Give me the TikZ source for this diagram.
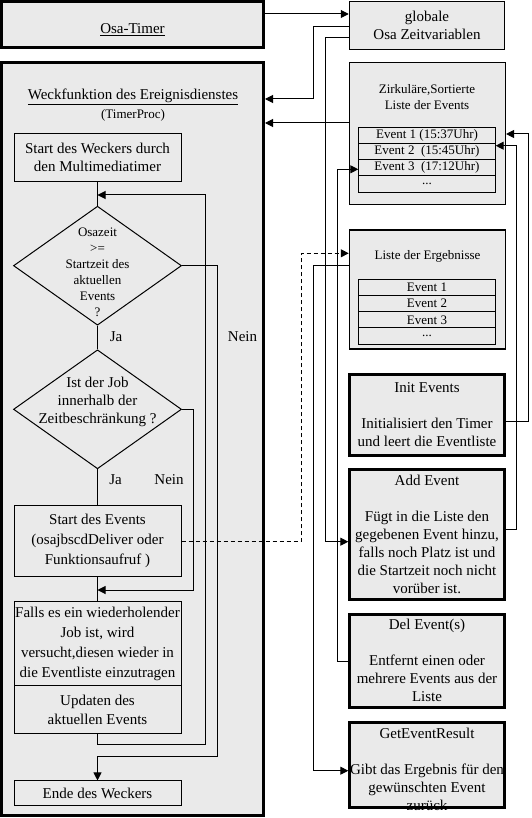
\documentclass[tikz,border=0pt]{standalone}
\usepackage{fontspec}
\setmainfont{Liberation Serif}
\usetikzlibrary{arrows.meta,shapes.geometric}
\definecolor{boxgray}{RGB}{234,234,234}
\newcommand\mainsz{\fontsize{15}{18}\selectfont}
\newcommand\smallsz{\fontsize{13}{16}\selectfont}
\newcommand\wideszA{\fontsize{15}{20}\selectfont}
\newcommand\wideszB{\fontsize{15}{19}\selectfont}
\begin{document}
\begin{tikzpicture}[x=1pt,y=-1pt,
  thickbox/.style={draw, line width=3pt, fill=boxgray, rectangle, inner sep=0pt, align=center, font=\mainsz},
  midbox/.style={draw, line width=1.5pt, fill=boxgray, rectangle, inner sep=0pt, align=center, font=\mainsz},
  flowbox/.style={draw, line width=1pt, fill=boxgray, rectangle, inner sep=0pt, align=center, font=\mainsz, minimum width=167pt},
  rowbox/.style={draw, line width=1pt, fill=boxgray, rectangle, inner sep=0pt, font=\smallsz, minimum width=136.4pt, minimum height=16.2pt},
  decide/.style={draw, line width=1pt, diamond, inner sep=0pt, minimum width=168pt, minimum height=119pt},
  txt/.style={inner sep=0pt, align=center, font=\mainsz},
  stxt/.style={inner sep=0pt, align=center, font=\smallsz},
  conn/.style={line width=1pt},
  arr/.style={line width=1pt, -{Triangle[length=8pt,width=8pt]}},
  dashline/.style={dash pattern=on 4pt off 3pt},
]
\useasboundingbox (0,0) rectangle (531,818);
\fill[white] (0,0) rectangle (531,818);

% ---------- left column ----------
\node[thickbox, minimum width=262pt, minimum height=46pt] (osa) at (132.5,25) {};
\node[txt] (osatxt) at (132.5,30) {\underline{Osa-Timer}};

\node[thickbox, minimum width=262pt, minimum height=753pt] (wf) at (132.5,439) {};
\node[txt] (wftitle) at (133,97) {\underline{Weckfunktion des Ereignisdienstes}};
\node[stxt] (wfsub) at (133,115) {(TimerProc)};

\node[flowbox, minimum height=47.4pt] (sw) at (97.5,157.5) {Start des Weckers durch\\den Multimediatimer};
\node[decide] (d1) at (97.5,265.7) {};
\node[stxt] (d1txt) at (97.5,272.5) {Osazeit\\>=\\Startzeit des\\aktuellen\\Events\\?};
\node[decide] (d2) at (97.5,409.3) {};
\node[txt] (d2txt) at (97.5,402.3) {Ist der Job\\innerhalb der\\Zeitbeschränkung ?};
\node[flowbox, minimum height=71.3pt] (se) at (97.5,541.2) {Start des Events\\[2pt](osajbscdDeliver oder\\[2pt]Funktionsaufruf )};
\node[flowbox, minimum height=84pt, font=\wideszA] (falls) at (97.5,643.7) {Falls es ein wiederholender\\Job ist, wird\\versucht,diesen wieder in\\die Eventliste einzutragen};
\node[flowbox, minimum height=47.6pt, font=\wideszB] (upd) at (97.5,709.5) {Updaten des\\aktuellen Events};
\node[flowbox, minimum height=24.7pt] (ende) at (97.5,793.3) {Ende des Weckers};

\node[txt] (ja1) at (116,336.7) {Ja};
\node[txt] (nein1) at (242.5,336.7) {Nein};
\node[txt] (ja2) at (115.5,480) {Ja};
\node[txt] (nein2) at (169,480) {Nein};

% ---------- right column ----------
\node[midbox, minimum width=155pt, minimum height=48pt] (glob) at (427,25.5) {globale\\Osa Zeitvariablen};

\node[midbox, minimum width=156pt, minimum height=142pt] (zirk) at (427.3,133.5) {};
\node[stxt] (zirktitle) at (427,97.5) {Zirkuläre,Sortierte\\Liste der Events};
\node[rowbox] (z1) at (427,135.4) {Event 1 (15:37Uhr)};
\node[rowbox] (z2) at (427,151.6) {Event 2\ \ (15:45Uhr)};
\node[rowbox] (z3) at (427,167.8) {Event 3\ \ (17:12Uhr)};
\node[rowbox] (z4) at (427,184.0) {...};

\node[midbox, minimum width=156pt, minimum height=119pt] (erg) at (427.5,289.3) {};
\node[stxt] (ergtitle) at (427.5,256.7) {Liste der Ergebnisse};
\node[rowbox] (e1) at (427,287.4) {Event 1};
\node[rowbox] (e2) at (427,303.6) {Event 2};
\node[rowbox] (e3) at (427,319.8) {Event 3};
\node[rowbox] (e4) at (427,336.0) {...};

\node[thickbox, minimum width=154.4pt, minimum height=81.6pt] (init) at (427,415) {Init Events\\[18pt]Initialisiert den Timer\\und leert die Eventliste};
\node[thickbox, minimum width=154.4pt, minimum height=129.4pt] (add) at (427,534.5) {Add Event\\[18pt]Fügt in die Liste den\\gegebenen Event hinzu,\\falls noch Platz ist und\\die Startzeit noch nicht\\vorüber ist.};
\node[thickbox, minimum width=154.4pt, minimum height=93.3pt] (del) at (427,660.85) {Del Event(s)\\[18pt]Entfernt einen oder\\mehrere Events aus der\\Liste};
\node[thickbox, minimum width=154.4pt, minimum height=85.3pt] (get) at (427,764.85) {};
\node[txt] (gettxt) at (427,769) {GetEventResult\\[18pt]Gibt das Ergebnis für den\\gewünschten Event\\zurück};

% ---------- connectors, left ----------
\coordinate (c195) at (205,195);
\coordinate (c744) at (205,744.3);
\coordinate (c217a) at (217.7,265.7);
\coordinate (c217b) at (217.7,756.7);
\coordinate (c193a) at (193.3,409.3);
\coordinate (c193b) at (193.3,590);
\coordinate (dshtop) at (301.7,253.3);

\draw[conn] (sw.south) -- (d1.north);
\draw[arr] (upd.south) |- (c744) -- (c195) -- (c195 -| sw.south);
\draw[arr] (d1.east) -- (c217a) -- (c217b) -- (c217b -| ende.north) -- (ende.north);
\draw[conn] (d1.south) -- (d2.north);
\draw[conn] (d2.south) -- (se.north);
\draw[arr] (d2.east) -- (c193a) -- (c193b) -- (c193b -| se.south);
\draw[conn] (se.south) -- (falls.north);
\draw[arr, dashline] (se.east) -| (dshtop) -- (dshtop -| erg.west);

% ---------- connectors, right ----------
\coordinate (g14) at (0,14);
\coordinate (y123) at (0,123);
\coordinate (x313a) at (313,26.4);
\coordinate (x313b) at (313,99);
\coordinate (x325a) at (325.7,37.9);
\coordinate (x325b) at (325.7,541.7);
\coordinate (x528a) at (528.3,421);
\coordinate (x528b) at (528.3,134);
\coordinate (x516a) at (516.7,529);
\coordinate (x516b) at (516.7,145.7);
\coordinate (x337a) at (337.7,661);
\coordinate (x337b) at (337.7,169.3);
\coordinate (x313c) at (313.3,265.7);
\coordinate (x313d) at (313.3,770.7);

\draw[arr] (osa.east |- g14) -- (glob.west |- g14);
\draw[arr] (glob.west |- x313a) -- (x313a) -- (x313b) -- (x313b -| wf.east);
\draw[arr] (zirk.west |- y123) -- (wf.east |- y123);
\draw[arr] (glob.west |- x325a) -- (x325a) -- (x325b) -- (x325b -| add.west);
\draw[arr] (init.east |- x528a) -- (x528a) -- (x528b) -- (x528b -| zirk.east);
\draw[arr] (add.east |- x516a) -- (x516a) -- (x516b) -- (x516b -| z2.east);
\draw[arr] (del.west |- x337a) -- (x337a) -- (x337b) -- (x337b -| z3.west);
\draw[arr] (erg.west |- x313c) -- (x313c) -- (x313d) -- (x313d -| get.west);
\end{tikzpicture}
\end{document}
